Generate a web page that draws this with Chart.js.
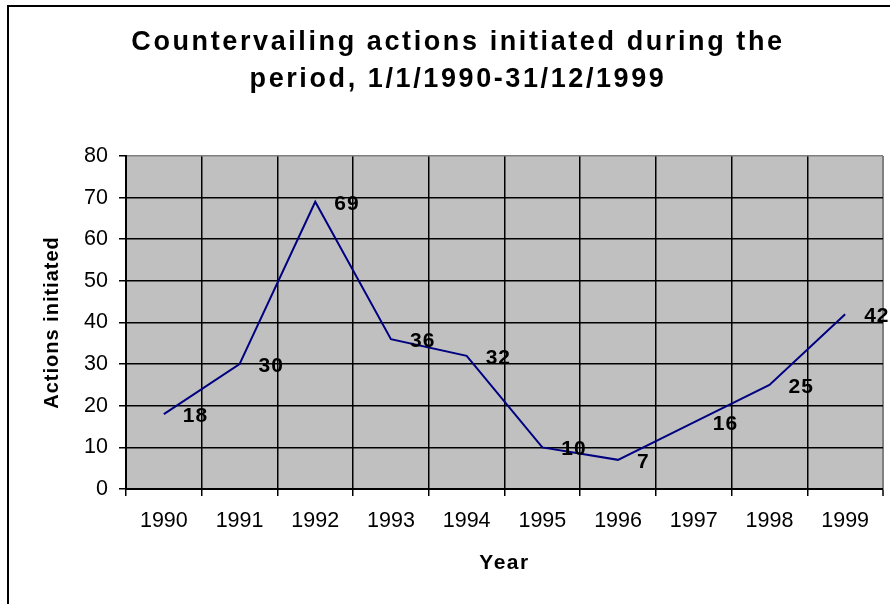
<!DOCTYPE html>
<html>
<head>
<meta charset="utf-8">
<script src="https://cdn.jsdelivr.net/npm/chart.js@4/dist/chart.umd.min.js"></script>
<style>
  body { margin: 0; background: #fff; }
  #wrap { width: 890px; height: 604px; }
</style>
</head>
<body>
<div id="wrap"><canvas id="actionsChart" width="890" height="604"></canvas></div>
<script>
// data
var years = ['1990','1991','1992','1993','1994','1995','1996','1997','1998','1999'];
var actions = [18, 30, 69, 36, 32, 10, 7, 16, 25, 42];
var yTicks = [0, 10, 20, 30, 40, 50, 60, 70, 80];
var titleLines = ['Countervailing actions initiated during the', 'period, 1/1/1990-31/12/1999'];

Chart.defaults.font.family = '"Liberation Sans", Arial, sans-serif';
Chart.defaults.color = '#000';

// wraps a draw function so its text gets wider letter spacing (the excel look)
function spaced(obj, fn, sp) {
    if (!obj || obj['_sp_' + fn]) return;
    var orig = obj[fn];
    obj[fn] = function () {
        var ctx = this.ctx, old = ctx.letterSpacing;
        ctx.letterSpacing = sp;
        orig.apply(this, arguments);
        ctx.letterSpacing = old;
    };
    obj['_sp_' + fn] = true;
}

var plotBack = {
    id: 'plotBack',
    beforeDraw(chart) {
        var ctx = chart.ctx, a = chart.chartArea;
        ctx.letterSpacing = '0px';
        spaced(chart.titleBlock, 'draw', '2.6px');
        spaced(chart.scales.x, 'drawTitle', '1.5px');
        spaced(chart.scales.y, 'drawTitle', '1px');
        ctx.save();
        // outer frame of the chart object (cut off on right/bottom)
        ctx.strokeStyle = '#000';
        ctx.lineWidth = 2;
        ctx.strokeRect(8, 6, 1000, 800);
        ctx.fillStyle = '#c0c0c0';
        ctx.fillRect(a.left, a.top, a.right - a.left, a.bottom - a.top);
        ctx.restore();
    }
};

var valueLabels = {
    id: 'valueLabels',
    afterDatasetsDraw(chart) {
        var ctx = chart.ctx;
        var meta = chart.getDatasetMeta(0);
        ctx.save();
        ctx.font = 'bold 21px "Liberation Sans", Arial, sans-serif';
        ctx.letterSpacing = '1px';
        ctx.fillStyle = '#000';
        ctx.textAlign = 'left';
        ctx.textBaseline = 'middle';
        meta.data.forEach((pt, i) => {
            ctx.fillText(String(actions[i]), pt.x + 19, pt.y + 2);
        });
        ctx.restore();
    }
};

var ctx = document.getElementById('actionsChart').getContext('2d');
var chart = new Chart(ctx, {
    type: 'line',
    data: {
        labels: years,
        datasets: [{
            label: 'Actions initiated',
            data: actions,
            borderColor: '#000080',
            borderWidth: 2,
            pointRadius: 0,
            tension: 0,
            fill: false
        }]
    },
    options: {
        responsive: false,
        animation: false,
        layout: { padding: { left: 33, right: 7, top: 0, bottom: 0 } },
        plugins: {
            legend: { display: false },
            tooltip: { enabled: false },
            title: {
                display: true,
                text: titleLines,
                color: '#000',
                font: { size: 27, weight: 'bold', lineHeight: 1.37 },
                padding: { top: 24.5, bottom: 57.5 }
            }
        },
        scales: {
            x: {
                offset: true,
                grid: {
                    offset: true,
                    color: c => c.index === undefined ? '#808080' : '#000',
                    lineWidth: c => c.index === undefined ? 2 : 1.5,
                    tickLength: 7,
                    tickColor: '#000',
                    tickWidth: 1.5
                },
                border: { color: '#000', width: 2 },
                ticks: { color: '#000', font: { size: 21.5 }, padding: 12, maxRotation: 0, autoSkip: false },
                title: {
                    display: true,
                    text: 'Year',
                    color: '#000',
                    font: { size: 21, weight: 'bold' },
                    padding: { top: 0, bottom: 28 }
                },
                afterFit: s => { s.height = 115; }
            },
            y: {
                min: yTicks[0],
                max: yTicks[yTicks.length - 1],
                afterBuildTicks: s => { s.ticks = yTicks.map(v => ({ value: v })); },
                grid: {
                    color: c => (c.tick && c.tick.value === 80) ? '#808080' : '#000',
                    lineWidth: 1.5,
                    tickLength: 7,
                    tickColor: '#000',
                    tickWidth: 1.5
                },
                border: { color: '#000', width: 2 },
                ticks: { color: '#000', font: { size: 21.5 }, padding: 11 },
                title: {
                    display: true,
                    text: 'Actions initiated',
                    color: '#000',
                    font: { size: 20, weight: 'bold' },
                    padding: { top: 7, bottom: 0 }
                },
                afterFit: s => { s.width = 93; }
            }
        }
    },
    plugins: [plotBack, valueLabels]
});
</script>
</body>
</html>
